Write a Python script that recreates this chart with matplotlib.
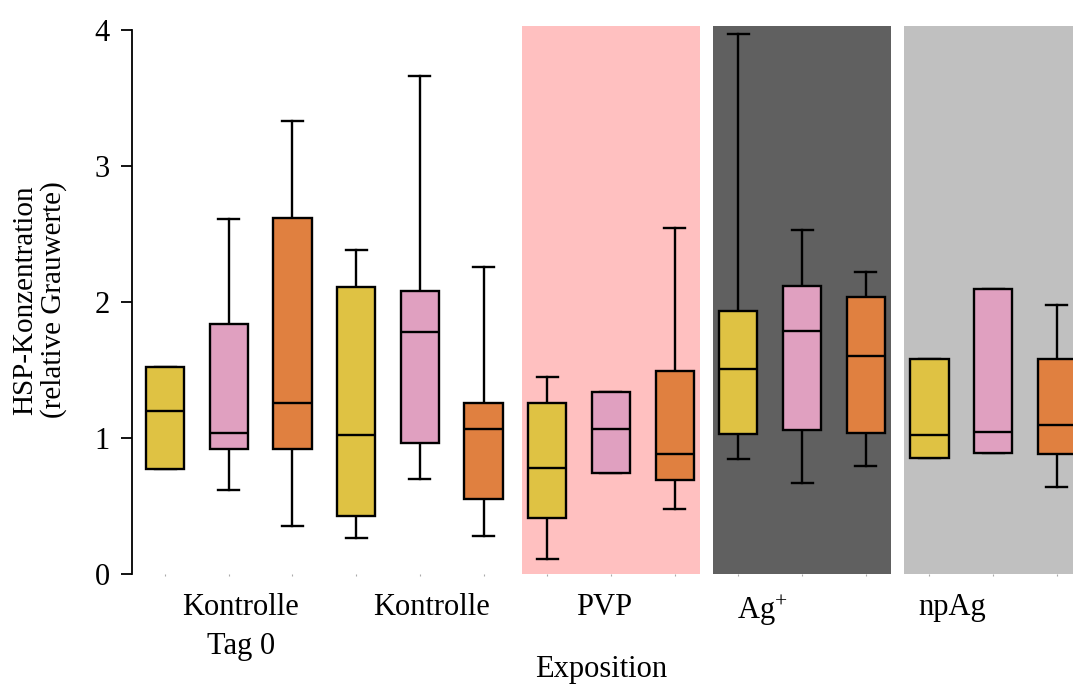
import matplotlib.pyplot as plt
import numpy as np

# box statistics, one entry per box (3 boxes per group)
whislo = [0.77, 0.62, 0.35, 0.265, 0.70, 0.28, 0.107, 0.742, 0.48, 0.849, 0.669, 0.798, 0.852, 0.89, 0.64]
q1 = [0.77, 0.92, 0.92, 0.43, 0.96, 0.55, 0.41, 0.742, 0.69, 1.027, 1.058, 1.034, 0.852, 0.89, 0.886]
med = [1.20, 1.04, 1.26, 1.02, 1.78, 1.07, 0.78, 1.068, 0.886, 1.506, 1.786, 1.606, 1.024, 1.046, 1.097]
q3 = [1.52, 1.84, 2.62, 2.11, 2.08, 1.26, 1.258, 1.338, 1.49, 1.937, 2.117, 2.04, 1.584, 2.10, 1.58]
whishi = [1.52, 2.61, 3.33, 2.38, 3.66, 2.26, 1.45, 1.338, 2.545, 3.975, 2.53, 2.219, 1.584, 2.10, 1.978]

groups = ['Kontrolle\nTag 0', 'Kontrolle', 'PVP', 'Ag$^{+}$', 'npAg']
label_pos = [2.19, 5.19, 7.89, 10.37, 13.35]
box_colors = ['#DFC243', '#E0A0C0', '#E08040']
shade = {2: '#FFC0C0', 3: '#606060', 4: '#C0C0C0'}

plt.rcParams['font.family'] = ['Liberation Serif', 'DejaVu Serif']
plt.rcParams['mathtext.default'] = 'regular'

fig = plt.figure(figsize=(10.73, 6.84), dpi=100)
ax = fig.add_axes([0.123, 0.1608, 0.8916, 0.801])

positions = np.arange(1, len(med) + 1)
stats = []
for i in range(len(med)):
    stats.append(dict(whislo=whislo[i], q1=q1[i], med=med[i], q3=q3[i],
                      whishi=whishi[i], fliers=[]))

lw = 1.7
bp = ax.bxp(stats, positions=positions, widths=0.6, patch_artist=True,
            showfliers=False, capwidths=0.33,
            boxprops=dict(linewidth=lw, edgecolor='black', zorder=3),
            medianprops=dict(color='black', linewidth=lw, zorder=4),
            whiskerprops=dict(color='black', linewidth=lw, zorder=2),
            capprops=dict(color='black', linewidth=lw, zorder=2))
for i, patch in enumerate(bp['boxes']):
    patch.set_facecolor(box_colors[i % 3])

# shaded exposure groups
for g, col in shade.items():
    c = 3 * g + 2
    ax.axvspan(c - 1.4, c + 1.4, color=col, lw=0, zorder=0)

ax.set_xlim(0.48, 15.5)
ax.set_ylim(0, 4.03)
for s in ['top', 'right', 'bottom']:
    ax.spines[s].set_visible(False)
ax.spines['left'].set_bounds(0, 4)
ax.spines['left'].set_linewidth(1.3)

ax.set_yticks([0, 1, 2, 3, 4])
ax.tick_params(axis='y', length=8, width=1.3, labelsize=22, pad=8)

ax.set_xticks(label_pos)
ax.set_xticklabels(groups, fontsize=22, linespacing=1.45)
ax.set_xticks(positions, minor=True)
ax.tick_params(axis='x', which='major', length=0, pad=14)
ax.tick_params(axis='x', which='minor', length=1.5, width=0.8, color='#aaaaaa')

ax.set_xlabel('Exposition', fontsize=22)
ax.xaxis.set_label_coords(0.49, -0.148)
ax.set_ylabel('HSP-Konzentration\n(relative Grauwerte)', fontsize=21, linespacing=1.1)
ax.yaxis.set_label_coords(-0.068, 0.5)

plt.savefig('out.png', dpi=100)
